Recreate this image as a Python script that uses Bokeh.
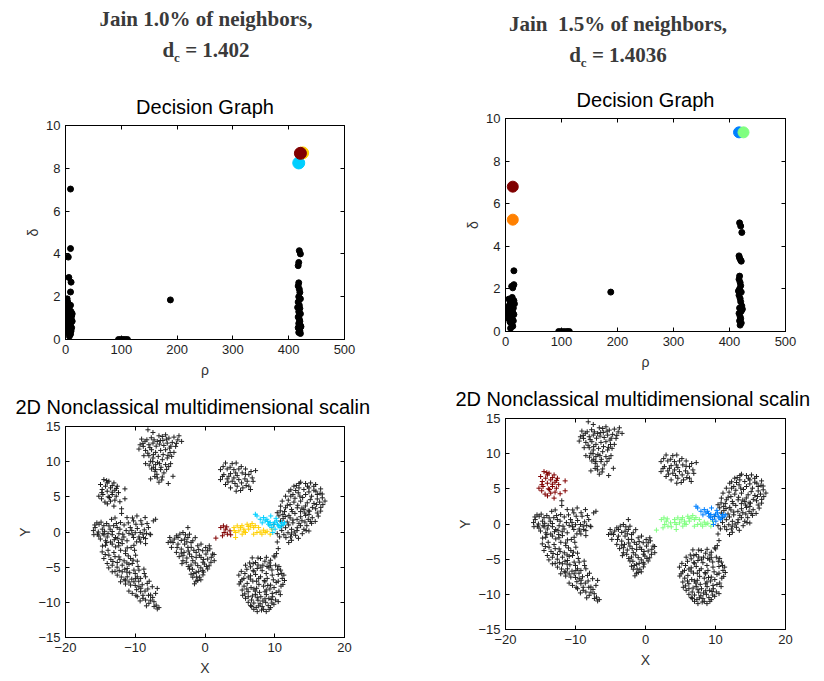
from bokeh.plotting import figure
from bokeh.layouts import row, column
from bokeh.models import Div, Range1d, FixedTicker, LinearAxis
from bokeh.embed import file_html
from bokeh.resources import INLINE

# ---------------- headings ----------------
left_heading = ("Jain 1.0% of neighbors,", "1.402")
right_heading = ("Jain&nbsp; 1.5% of neighbors,", "1.4036")

# ---------------- decision graph data (rho, delta) ----------------
dec1_rho = [9, 9, 5, 6, 10, 9, 3, 9, 1, 4, 7, 10, 3, 6, 11, 2, 5, 8, 12, 3, 6, 9, 4, 7, 11, 5, 8, 10, 6, 9, 7, 12, 2, 11, 4, 8,
            95, 99, 103, 107, 111,
            188,
            419, 421, 418, 417, 418, 417, 419, 420, 418, 421, 417, 419, 420, 418, 421, 417, 419, 420, 418, 421, 417, 419,
            420, 418, 421, 422, 416]
dec1_delta = [7.03, 4.25, 3.85, 2.9, 2.68, 2.22, 1.9, 1.6, 1.48, 1.75, 1.4, 1.3, 1.25, 1.15, 1.1, 1.0, 0.95, 0.9, 0.85,
              0.8, 0.75, 0.7, 0.65, 0.6, 0.55, 0.5, 0.45, 0.4, 0.3, 0.25, 0.15, 1.2, 0.7, 0.9, 1.35, 1.05,
              0, 0, 0, 0, 0,
              1.85,
              4.15, 4.0, 3.6, 3.45, 2.65, 2.5, 2.35, 2.2, 2.0, 1.9, 1.75, 1.6, 1.45, 1.3, 1.2, 1.05, 0.95, 0.85, 0.75,
              0.65, 0.55, 0.48, 0.4, 0.33, 0.28, 0.6, 1.5]
dec1_center_rho = [418, 425, 421]
dec1_center_delta = [8.25, 8.72, 8.7]
dec1_center_colors = ["#00cfff", "#ffcf00", "#800000"]

dec2_rho = [15, 11, 15, 13, 6, 12, 15, 3, 8, 11, 14, 5, 9, 13, 15, 7, 10, 12, 14, 8, 11, 13, 9, 6, 4, 16, 10, 7,
            95, 100, 105, 110, 114,
            188,
            418, 420, 422, 417, 418, 420, 421, 418, 417, 419, 420, 418, 421, 417, 419, 420, 422, 418, 421, 417, 419,
            420, 418, 421, 419, 423, 416]
dec2_delta = [2.85, 2.12, 2.2, 2.05, 1.52, 1.6, 1.45, 1.15, 1.3, 1.2, 1.1, 1.0, 0.95, 0.9, 0.8, 0.75, 0.7, 0.6, 0.5,
              0.45, 0.35, 0.25, 0.15, 0.6, 0.85, 1.3, 1.4, 1.1,
              0, 0, 0, 0, 0,
              1.85,
              5.1, 4.95, 4.65, 3.55, 3.45, 3.35, 3.3, 2.6, 2.45, 2.3, 2.15, 2.0, 1.85, 1.7, 1.55, 1.4, 1.2, 1.1, 0.95,
              0.85, 0.7, 0.6, 0.5, 0.4, 0.3, 1.05, 1.9]
dec2_center_rho = [417, 425, 13, 13]
dec2_center_delta = [9.35, 9.35, 5.25, 6.8]
dec2_center_colors = ["#0080ff", "#80ff80", "#ff8000", "#800000"]

# ---------------- 2D MDS data (x, y) ----------------
mds_top = [(-8.18, 14.53), (-7.46, 14.15), (-9.09, 13.21), (-8.33, 13.11), (-6.60, 13.68), (-6.12, 13.58),
           (-5.65, 13.82), (-5.17, 13.35), (-4.45, 13.49), (-3.73, 13.68), (-3.35, 12.88), (-9.47, 11.79),
           (-8.85, 12.17), (-8.04, 12.41), (-7.46, 12.64), (-6.84, 12.88), (-6.03, 13.02), (-5.41, 12.64),
           (-4.69, 12.74), (-4.21, 12.17), (-8.52, 11.60), (-7.66, 11.70), (-7.08, 11.32), (-6.36, 11.60),
           (-5.65, 11.70), (-5.07, 11.93), (-4.45, 11.32), (-8.76, 10.85), (-8.04, 10.85), (-7.46, 10.52),
           (-6.70, 10.75), (-6.12, 10.28), (-5.41, 10.52), (-4.78, 10.75), (-8.52, 9.72), (-7.80, 10.05),
           (-7.08, 9.58), (-6.51, 9.72), (-5.65, 9.58), (-4.93, 9.72), (-7.66, 8.96), (-7.18, 8.63),
           (-6.36, 8.87), (-5.89, 8.40), (-7.80, 7.55), (-6.84, 7.69), (-6.12, 7.83), (-4.59, 7.92),
           (-6.60, 7.08), (-5.26, 6.89), (-8.9, 12.6), (-7.0, 12.2), (-5.9, 12.3), (-6.4, 13.0), (-7.7, 13.4),
           (-3.9, 13.1), (-5.0, 11.3), (-7.4, 9.2), (-6.8, 9.9), (-6.9, 8.2), (-5.5, 8.9), (-7.2, 7.9),
           (-9.3, 12.4), (-8.6, 12.9), (-7.9, 12.0), (-7.3, 13.1), (-6.5, 12.5), (-5.5, 13.2), (-4.9, 12.2),
           (-4.1, 12.6), (-8.2, 11.2), (-7.4, 11.0), (-6.0, 11.0), (-5.3, 10.9), (-8.0, 9.5), (-6.3, 9.2),
           (-5.2, 9.3), (-7.1, 8.9), (-6.2, 7.4), (-7.5, 10.0)]

mds_upper_left = [(-14.50, 7.45), (-13.78, 7.22), (-13.06, 6.98), (-14.98, 6.75), (-14.26, 6.51), (-13.54, 6.27),
                  (-12.58, 6.51), (-14.74, 6.04), (-14.02, 5.80), (-12.92, 5.94), (-11.48, 6.13), (-15.22, 5.09),
                  (-14.64, 5.33), (-13.88, 5.00), (-13.30, 5.33), (-12.73, 5.09), (-14.83, 4.72), (-13.54, 4.39),
                  (-12.92, 4.53), (-11.48, 4.72), (-13.06, 3.68), (-14.35, 4.25), (-14.02, 6.98), (-13.30, 5.66),
                  (-14.1, 7.3), (-13.3, 6.6), (-14.8, 5.6), (-12.4, 5.6), (-13.7, 4.9), (-12.2, 4.3), (-14.0, 4.0),
                  (-12.7, 6.2)]

mds_crescent = [(-11.96, 3.30), (-11.96, 2.64),
                (-15.75, 0.63), (-15.19, 1.10), (-14.72, 0.40), (-15.42, -0.31), (-14.48, -0.40), (-13.77, 0.87),
                (-13.30, 0.07), (-12.59, 0.63), (-12.12, 1.34), (-12.83, -0.78), (-11.79, -0.31), (-11.18, 2.05),
                (-10.71, 0.63), (-10.24, 1.58), (-9.76, 2.28), (-9.06, 1.10), (-8.58, 2.05), (-8.11, 0.63),
                (-7.41, 1.58), (-7.08, 1.81), (-9.29, -0.07), (-10.24, -0.78), (-11.18, -1.25), (-8.82, -0.78),
                (-7.88, -0.31), (-14.25, -1.25), (-13.30, -1.72), (-12.36, -1.96),
                (-15.93, -0.38), (-15.22, -0.57), (-14.64, -0.24), (-14.02, -0.71), (-13.30, -0.38),
                (-12.34, -0.24), (-11.63, -0.71), (-10.43, -0.38), (-9.47, -0.71), (-8.52, -0.94), (-7.80, -0.38),
                (-14.26, -1.89), (-13.54, -1.42), (-12.82, -2.12), (-11.87, -1.65), (-11.15, -2.26),
                (-10.19, -1.89), (-9.23, -1.42), (-8.52, -1.65), (-14.74, -2.83), (-13.78, -3.30), (-13.06, -2.92),
                (-12.34, -3.54), (-11.39, -3.07), (-10.67, -3.77), (-9.95, -3.30), (-9.71, -4.15), (-14.50, -3.77),
                (-14.02, -4.48), (-13.30, -4.72), (-12.58, -4.34), (-11.87, -4.72), (-11.15, -5.19),
                (-10.43, -4.48), (-10.19, -5.42), (-13.30, -5.66), (-12.58, -6.13), (-11.87, -5.66),
                (-11.15, -6.37), (-9.71, -6.37), (-8.76, -5.28), (-12.11, -7.08), (-11.39, -6.84),
                (-10.67, -7.55), (-10.19, -7.08), (-9.23, -8.49), (-8.52, -6.37), (-8.28, -7.31), (-7.56, -7.78),
                (-6.84, -8.02), (-10.43, -8.73), (-9.71, -9.20), (-8.52, -9.67), (-7.80, -8.96), (-7.32, -9.91),
                (-7.08, -8.73), (-6.60, -10.75), (-6.84, -10.94), (-8.90, -9.43), (-8.04, -10.14), (-9.47, -7.78),
                (-10.91, -8.40), (-9.47, -5.42), (-9.23, -6.60), (-9.95, -6.60),
                (-16.0, 0.2), (-15.5, 1.3), (-14.1, 1.2), (-13.4, 1.8), (-11.6, 1.0), (-10.9, -0.2), (-9.7, 0.5),
                (-8.4, -0.2), (-12.9, 2.0), (-15.8, 1.0), (-14.9, 1.4), (-14.4, 0.1), (-13.9, -0.2), (-13.1, 0.9),
                (-12.5, -0.9), (-12.2, 0.4), (-11.3, 0.2), (-10.4, 2.0), (-10.0, -0.1), (-9.2, 1.6), (-8.7, 0.3),
                (-8.3, 1.2), (-15.0, -1.0), (-14.7, -2.0), (-13.9, -2.6), (-13.5, -3.9), (-12.9, -3.5),
                (-12.1, -2.6), (-11.6, -4.1), (-11.0, -3.4), (-10.9, -4.6), (-10.1, -2.6), (-9.6, -4.9),
                (-12.6, -5.0), (-12.0, -6.4), (-11.5, -5.3), (-10.8, -5.8), (-10.5, -6.7), (-9.5, -7.0),
                (-9.8, -8.2), (-9.0, -7.5), (-8.6, -8.4), (-8.0, -7.0), (-8.1, -9.0), (-7.5, -9.3), (-7.0, -10.4),
                (-9.3, -9.8), (-11.4, -7.4), (-8.7, -5.9),
                (-15.3, 0.0), (-14.5, 0.9), (-13.6, 0.4), (-12.7, 1.2), (-11.9, -1.1), (-11.0, 1.3), (-10.5, 0.2),
                (-9.9, 1.1), (-9.4, -1.0), (-8.9, -0.3), (-14.1, -1.5), (-13.0, -1.1), (-12.4, -1.5),
                (-11.4, -2.7), (-10.6, -2.2), (-9.8, -1.4), (-14.3, -3.2), (-13.2, -4.2), (-12.2, -3.9),
                (-11.2, -4.4), (-10.3, -4.0), (-13.8, -5.1), (-12.9, -5.6), (-12.3, -5.5), (-11.2, -5.7),
                (-10.0, -5.9), (-11.6, -6.8), (-10.9, -7.1), (-10.0, -7.6), (-9.2, -8.0), (-8.2, -8.1),
                (-8.9, -9.0), (-7.8, -9.7), (-7.3, -10.6), (-9.9, -9.0), (-8.4, -10.5)]

mds_middle = [(-2.45, 0.63), (-3.16, -0.07), (-4.10, -0.54), (-5.05, -0.78), (-4.58, -1.49), (-4.81, -2.19),
              (-3.87, -1.72), (-2.92, -1.02), (-2.22, -0.31), (-1.75, -1.25), (-1.04, -1.96), (-0.33, -2.66),
              (0.61, -1.96), (1.08, -3.14), (0.38, -3.84), (-3.40, -2.43), (-2.45, -2.19), (-4.10, -2.90),
              (-3.16, -3.37), (-2.22, -3.14), (-1.27, -2.90), (-0.57, -3.61), (-2.69, -4.31), (-1.75, -4.08),
              (-1.04, -4.78), (-0.09, -4.55), (0.85, -4.31), (-2.22, -5.26), (-1.27, -5.73), (-0.33, -5.49),
              (0.38, -5.26), (-1.75, -6.43), (-0.80, -6.43), (-1.51, -7.37), (-1.04, -6.90), (-3.87, -0.78),
              (-1.98, -2.19), (-2.92, -1.72), (-1.27, -3.61), (0.14, -3.14), (1.32, -4.08), (-2.45, -0.78),
              (-5.28, -1.49), (-3.16, -4.08), (-0.57, -1.72), (0.38, -2.66),
              (-4.4, -1.0), (-3.6, -0.3), (-3.0, -2.9), (-3.7, -3.5), (-2.0, -1.5), (-1.6, -2.6), (-0.8, -3.3),
              (-0.2, -3.9), (0.7, -2.4), (-2.6, -3.7), (-2.0, -4.7), (-1.4, -4.4), (-0.6, -5.1), (0.2, -4.9),
              (-1.6, -5.9), (-0.3, -6.1), (-1.3, -7.0), (-2.8, -0.4), (-4.9, -1.3), (0.9, -3.6),
              (-4.0, -2.2), (-3.4, -1.2), (-2.6, -1.4), (-1.4, -0.8), (-0.9, -2.5), (0.1, -2.2), (-3.4, -3.0),
              (-2.4, -2.7), (-1.9, -3.5), (-0.3, -4.3), (0.6, -4.8), (-2.4, -4.9), (-1.8, -5.3), (-0.9, -5.6),
              (-0.2, -5.7), (-1.2, -6.4), (-0.6, -6.8), (-2.0, -6.0), (1.3, -3.2), (-3.3, -4.5)]

mds_small = [(2.94, 9.81), (3.90, 9.72), (4.47, 9.81), (2.22, 8.87), (3.18, 8.96), (4.14, 8.87), (4.85, 8.96),
             (5.81, 8.96), (7.25, 8.73), (2.70, 8.16), (3.66, 8.30), (4.62, 8.02), (5.33, 8.40), (6.29, 8.16),
             (2.22, 7.45), (3.18, 7.55), (3.90, 7.22), (4.85, 7.45), (5.72, 7.55), (6.77, 7.69), (2.94, 6.75),
             (3.66, 6.27), (4.62, 6.51), (5.43, 6.27), (6.29, 6.51), (4.47, 5.80), (6.53, 6.04), (3.42, 7.92),
             (4.14, 7.69), (6.05, 7.22), (5.24, 6.98),
             (2.6, 9.3), (3.6, 9.2), (5.2, 9.3), (6.6, 8.6), (2.5, 7.9), (4.4, 8.4), (5.8, 8.2), (3.3, 7.1),
             (4.3, 6.9), (5.9, 6.6), (6.9, 7.2), (5.1, 5.9)]

mds_right = [(13.71, 7.08), (14.42, 6.89), (15.14, 6.98), (15.86, 6.75), (12.75, 6.51), (13.47, 6.27),
             (14.18, 6.04), (14.90, 6.27), (15.62, 5.94), (16.58, 6.13), (12.03, 5.80), (12.61, 5.33),
             (13.37, 5.57), (14.42, 5.33), (15.28, 5.09), (16.10, 5.33), (16.82, 4.86), (11.55, 5.09),
             (11.07, 4.39), (11.94, 4.53), (12.75, 4.25), (13.71, 4.39), (14.66, 4.15), (15.62, 4.06),
             (16.43, 4.25), (10.84, 3.68), (11.55, 3.44), (12.41, 3.21), (13.23, 3.44), (14.18, 3.21),
             (15.00, 2.97), (15.86, 3.30), (16.58, 2.97), (10.36, 2.74), (11.17, 2.50), (12.03, 2.36),
             (12.89, 2.64), (13.71, 2.17), (14.42, 2.36), (15.38, 2.03), (16.24, 2.26), (10.84, 1.56),
             (11.79, 1.42), (12.61, 1.70), (13.47, 1.23), (14.33, 1.42), (15.28, 1.23), (11.55, 0.61),
             (12.41, 0.38), (13.23, 0.61), (14.18, 0.38), (14.90, 0.14), (9.88, 1.08), (10.36, -0.24),
             (11.31, -0.38), (12.27, -0.71), (12.99, -0.47), (13.95, -0.24), (12.41, -1.18), (10.36, -1.42),
             (10.50, -2.36), (10.26, -3.07), (10.02, -3.54),
             (12.3, 6.0), (13.1, 6.6), (14.9, 5.7), (15.9, 5.8), (16.5, 5.5), (12.9, 4.8), (14.0, 4.9),
             (15.1, 4.6), (16.1, 4.7), (12.2, 3.9), (13.3, 3.8), (14.4, 3.7), (15.4, 3.5), (16.9, 3.9),
             (11.4, 2.9), (12.5, 2.9), (13.7, 2.9), (14.9, 2.5), (16.1, 2.7), (11.2, 1.9), (12.2, 2.0),
             (13.2, 1.8), (14.8, 1.8), (15.8, 1.5), (11.0, 0.9), (12.0, 1.0), (13.7, 0.9), (14.6, 0.9),
             (12.8, 0.0), (11.6, -0.8), (12.0, -1.5), (13.4, -0.9), (11.0, 0.2),
             (13.5, 6.9), (14.7, 6.5), (15.6, 6.5), (16.8, 5.4), (17.2, 4.4), (13.6, 5.1), (12.3, 5.1),
             (14.8, 3.0), (13.9, 3.4), (16.6, 3.5), (11.8, 3.8), (10.8, 3.0), (12.6, 1.3), (13.9, 1.6),
             (15.1, 1.5), (14.3, 2.7), (11.5, 2.2), (10.6, 2.3), (12.4, -0.3), (13.2, 0.2), (11.9, -0.1),
             (10.7, -0.7), (14.5, 0.2), (16.0, 3.9), (13.0, 5.9)]

mds_bottom = [(6.77, -3.68), (7.25, -4.34), (7.96, -3.77), (8.59, -4.15), (9.40, -4.01), (9.88, -3.40),
              (5.81, -4.72), (6.53, -4.95), (7.49, -5.19), (8.30, -4.72), (9.16, -5.09), (10.12, -4.72),
              (10.84, -5.42), (4.85, -6.13), (5.72, -5.90), (6.53, -6.23), (7.25, -6.04), (7.96, -6.37),
              (8.78, -5.90), (9.64, -6.13), (10.50, -6.04), (11.31, -6.13), (5.09, -7.08), (6.05, -7.31),
              (6.86, -6.98), (7.73, -7.45), (8.59, -7.08), (9.40, -7.55), (10.21, -7.17), (11.17, -7.45),
              (5.33, -8.25), (6.19, -8.49), (7.01, -8.11), (7.82, -8.58), (8.78, -8.25), (9.64, -8.73),
              (10.60, -8.40), (5.81, -9.43), (6.67, -9.67), (7.49, -9.34), (8.30, -9.81), (9.16, -9.43),
              (10.12, -9.67), (6.53, -10.47), (7.34, -10.75), (8.20, -10.61), (9.06, -10.47), (7.49, -11.32),
              (8.78, -11.32), (9.88, -10.28), (11.07, -6.60), (7.01, -5.57), (8.92, -6.60), (5.57, -6.60),
              (7.25, -8.87), (9.40, -10.75),
              (6.0, -5.3), (6.9, -4.5), (8.0, -5.0), (9.2, -4.4), (10.4, -5.3), (5.3, -6.8), (6.5, -6.7),
              (7.7, -6.6), (8.5, -6.9), (9.8, -6.8), (10.9, -7.7), (5.6, -7.7), (6.6, -7.9), (7.4, -8.0),
              (8.4, -7.7), (9.3, -8.1), (10.2, -8.6), (5.7, -8.8), (6.8, -9.1), (8.0, -9.2), (8.8, -8.9),
              (9.7, -9.2), (6.2, -10.0), (7.0, -10.1), (7.9, -10.2), (8.7, -10.0), (9.6, -10.1), (8.1, -11.1),
              (7.0, -11.0), (9.4, -4.8),
              (7.6, -3.7), (8.8, -3.6), (6.4, -4.4), (7.6, -4.7), (8.9, -4.9), (10.6, -4.9), (5.2, -5.6),
              (6.9, -5.5), (8.2, -5.5), (9.6, -5.4), (11.0, -5.9), (4.9, -7.4), (6.2, -6.4), (7.4, -7.0),
              (9.0, -7.6), (10.5, -7.0), (11.4, -6.9), (6.0, -8.1), (7.2, -8.4), (8.6, -8.5), (9.9, -7.9),
              (10.8, -8.9), (6.2, -9.2), (7.6, -9.7), (8.6, -9.5), (9.5, -9.6), (6.7, -10.6), (7.7, -10.5),
              (8.4, -11.0), (9.2, -11.0), (5.4, -9.0), (10.5, -9.9)]

chain_a = [(1.56, -0.87), (2.26, 0.63), (2.64, 0.87), (2.97, 0.40), (2.74, -0.07), (3.21, -0.31), (3.58, 0.16),
           (2.50, -0.54), (3.11, 0.73), (3.68, -0.40)]
chain_b = [(4.15, 0.63), (4.62, 0.87), (5.09, 0.63), (4.39, -0.07), (4.86, 0.16), (5.57, 0.40), (6.04, 1.10),
           (6.51, 0.87), (6.98, 0.63), (6.27, 0.40), (6.75, 1.20), (7.45, -0.07), (8.16, -0.31), (8.63, -0.07),
           (9.34, -0.31), (7.69, 0.63), (5.33, -0.31), (5.80, -0.07), (8.40, 0.26), (4.39, -0.78), (9.58, 0.40),
           (6.98, -0.31), (4.2, 0.2), (5.3, 0.9), (6.2, 0.8), (7.2, 0.9), (7.9, 0.0), (8.9, 0.1), (5.6, 0.1)]
chain_c = [(7.22, 2.52), (7.45, 2.28), (8.40, 2.05), (8.63, 1.58), (8.87, 1.81), (9.34, 1.34), (9.81, 1.10),
           (9.58, 0.63), (10.28, 1.58), (10.52, 0.87), (10.99, 1.34), (11.23, 1.10), (10.05, 0.40), (9.10, 1.10),
           (10.75, 0.63), (7.92, 1.81), (9.43, 2.28), (10.19, 1.94), (9.72, -0.07), (8.2, 1.3), (9.0, 1.5),
           (10.0, 1.4), (10.4, 1.1), (10.9, 0.9), (11.4, 1.3), (9.3, 0.9)]

black_groups = [mds_top, mds_crescent, mds_middle, mds_small, mds_right, mds_bottom]
left_colored = [(mds_upper_left, "#1a1a1a"), (chain_a, "#800000"), (chain_b, "#ffcf00"), (chain_c, "#00cfff")]
right_colored = [(mds_upper_left, "#800000"), (chain_a, "#80ff80"), (chain_b, "#80ff80"), (chain_c, "#0080ff")]

# ---------------- axes ----------------
dec_xticks = [0, 100, 200, 300, 400, 500]
dec_yticks = [0, 2, 4, 6, 8, 10]
mds_xticks = [-20, -10, 0, 10, 20]
mds_yticks = [-15, -10, -5, 0, 5, 10, 15]

FONT = "Liberation Sans"
TXT = "#1e1e1e"


def make_fig(title, w, h, bl, br, bt, bb, xr, yr, xt, yt, xl, yl, talign, toff, tso):
    p = figure(width=w, height=h, x_range=Range1d(*xr), y_range=Range1d(*yr),
               output_backend="svg", toolbar_location=None, title=title,
               min_border_left=bl, min_border_right=br, min_border_top=bt, min_border_bottom=bb)
    p.title.text_font = FONT
    p.title.text_font_size = "20px"
    p.title.text_font_style = "normal"
    p.title.text_color = "black"
    p.title.align = talign
    p.title.offset = toff
    p.title.standoff = tso
    p.grid.visible = False
    p.outline_line_color = "black"
    p.outline_line_alpha = 1.0
    p.background_fill_color = "white"
    p.border_fill_color = "white"
    for ax, ticks, lab, so in ((p.xaxis[0], xt, xl, 5), (p.yaxis[0], yt, yl, 2)):
        ax.ticker = FixedTicker(ticks=ticks)
        ax.minor_tick_line_color = None
        ax.major_tick_in = 4
        ax.major_tick_out = 0
        ax.major_label_text_font = FONT
        ax.major_label_text_font_size = "13px"
        ax.major_label_text_color = TXT
        ax.major_label_standoff = 5
        ax.axis_label = lab
        ax.axis_label_text_font = FONT
        ax.axis_label_text_font_size = "14px"
        ax.axis_label_text_font_style = "normal"
        ax.axis_label_text_color = "#333333"
        ax.axis_label_standoff = so
        ax.axis_line_color = "black"
    # box ticks on top and right, as in the original axes box (no labels drawn)
    for loc, ticks in (("above", xt), ("right", yt)):
        ax = LinearAxis(ticker=FixedTicker(ticks=ticks), major_tick_in=4, major_tick_out=0,
                        minor_tick_line_color=None, major_label_text_color=None,
                        major_label_text_font_size="1px", major_label_standoff=0, axis_line_color="black")
        p.add_layout(ax, loc)
    return p


def decision(rho, delta, crho, cdelta, ccolors, w, h, bl, br, bt, bb, cs):
    p = make_fig("Decision Graph", w, h, bl, br, bt, bb, (0, 500), (0, 10),
                 dec_xticks, dec_yticks, "ρ", "δ", "center", 0, 16)
    p.scatter(rho, delta, size=6, color="black")
    for r, d, c in zip(crho, cdelta, ccolors):
        p.scatter([r], [d], size=cs, color=c)
    return p


def mds(colored, w, h, bl, br, bt, bb):
    p = make_fig("2D Nonclassical multidimensional scalin", w, h, bl, br, bt, bb, (-20, 20), (-15, 15),
                 mds_xticks, mds_yticks, "X", "Y", "left", -50, 17)
    for g in black_groups:
        p.scatter([q[0] for q in g], [q[1] for q in g], marker="cross", size=5, line_width=1.0,
                  color="#222222")
    for g, c in colored:
        p.scatter([q[0] for q in g], [q[1] for q in g], marker="cross", size=5, line_width=1.0, color=c)
    return p


def heading(lines, h, pad):
    html = ('<div style="width:412px;text-align:center;font-family:\'Liberation Serif\';font-weight:bold;'
            'font-size:21px;color:#3a3a3a;line-height:31px;padding-top:%dpx;">%s<br>d<sub style="font-size:13px;'
            'line-height:0;">c</sub> = %s</div>' % (pad, lines[0], lines[1]))
    return Div(text=html, width=412, height=h, margin=(0, 0, 0, 0))


f1 = decision(dec1_rho, dec1_delta, dec1_center_rho, dec1_center_delta, dec1_center_colors,
              412, 310, 65, 68, 50, 46, 12)
f2 = mds(left_colored, 412, 296, 65, 68, 40, 44)
f3 = decision(dec2_rho, dec2_delta, dec2_center_rho, dec2_center_delta, dec2_center_colors,
              412, 307, 93, 39, 48, 46, 11)
f4 = mds(right_colored, 412, 304, 93, 39, 40, 52)

left = column(heading(left_heading, 75, 4), f1, f2, spacing=0)
right = column(heading(right_heading, 70, 9), f3, f4, spacing=0)
layout = row(left, right, spacing=0)

open("out.html", "w").write(file_html(layout, INLINE))
